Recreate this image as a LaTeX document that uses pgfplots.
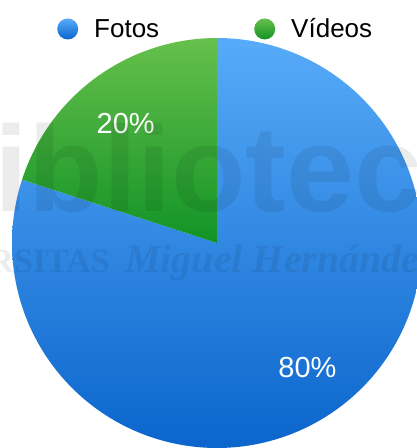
\documentclass[border=0pt]{standalone}
\usepackage{pgfplots}
\pgfplotsset{compat=1.18}
\usepgfplotslibrary{polar}
\usepackage{fontspec}
\setmainfont{Liberation Sans}
\newfontfamily\wmserif{Liberation Serif}
\definecolor{bluetop}{HTML}{57ABF8}
\definecolor{bluebot}{HTML}{0B65CC}
\definecolor{greentop}{HTML}{66C04C}
\definecolor{greenbot}{HTML}{129326}
\def\fotos{80}
\def\videos{20}
\pgfmathsetmacro\angA{90}
\pgfmathsetmacro\angB{90+3.6*\videos}
\pgfmathsetmacro\angC{\angB+3.6*\fotos}
\pgfmathsetmacro\midV{(\angA+\angB)/2}
\pgfmathsetmacro\midF{(\angB+\angC)/2}
\begin{document}
\begin{tikzpicture}
\path[use as bounding box, clip] (0,0) rectangle (417pt,448pt);
\begin{polaraxis}[
  at={(217pt,205pt)}, anchor=center,
  hide axis, scale only axis, width=410pt, height=410pt,
  xmin=0, xmax=360, ymin=0, ymax=205,
  clip=false,
  legend columns=2,
  legend style={draw=none, fill=none, inner sep=0pt, at={(0.1098,1.022)}, anchor=west,
    font=\fontsize{26}{30}\selectfont, nodes={inner sep=0pt},
    /tikz/every odd column/.style={column sep=16pt},
    /tikz/every even column/.style={column sep=95pt}},
  legend image code/.code={\path[#1] (10.5pt,0pt) circle (10.5pt);},
]
\addplot[draw=none, top color=bluetop, bottom color=bluebot, domain=\angB:\angC, samples=200] {205} -- (axis cs:0,0) -- cycle;
\addlegendentry{Fotos}
\addplot[draw=none, top color=greentop, bottom color=greenbot, domain=\angA:\angB, samples=60] {205} -- (axis cs:0,0) -- cycle;
\addlegendentry{Vídeos}
\node[text=white, inner sep=0pt, font=\fontsize{29}{30}\selectfont] at (axis cs:\midV+1.5,150) {\videos\%};
\node[text=white, inner sep=0pt, font=\fontsize{29}{30}\selectfont] at (axis cs:\midF,154) {\fotos\%};
\end{polaraxis}
\node[anchor=base west, inner sep=0pt, text opacity=0.075, font=\bfseries\fontsize{122}{122}\selectfont] at (-80pt,236pt) {biblioteca};
\node[anchor=base east, inner sep=0pt, text opacity=0.075, font=\wmserif\bfseries\fontsize{34}{36}\selectfont] at (110pt,175pt) {UNIVERSITAS};
\node[anchor=base west, inner sep=0pt, text opacity=0.075, font=\wmserif\bfseries\itshape\fontsize{40}{42}\selectfont] at (125pt,175pt) {Miguel Hernández};
\end{tikzpicture}
\end{document}
